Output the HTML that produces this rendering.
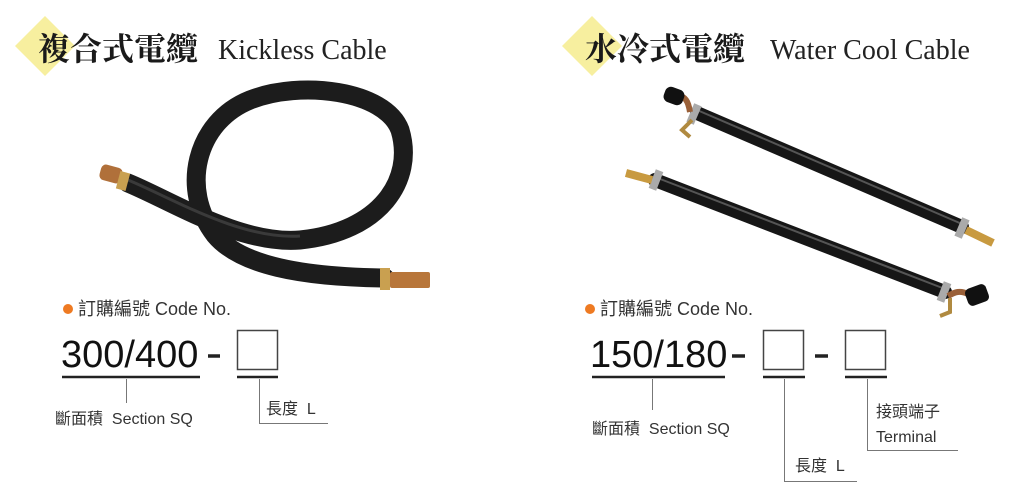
<!DOCTYPE html>
<html><head><meta charset="utf-8"><style>
html,body{margin:0;padding:0;background:#fff;}
#c{position:relative;width:1024px;height:495px;overflow:hidden;background:#fff;}
.t{position:absolute;white-space:nowrap;line-height:1;color:#222;}
.cjkt{font-family:"Noto Serif CJK SC","Liberation Serif",serif;font-size:32px;font-weight:bold;color:#1a1a1a;}
.ent{font-family:"Liberation Serif",serif;font-size:28px;color:#222;}
.s{font-family:"Liberation Sans","Noto Sans CJK TC",sans-serif;font-size:16px;color:#333;}
.cn{font-size:18px;}
.big{font-family:"Liberation Sans",sans-serif;font-size:38px;color:#111;}
</style></head><body><div id="c">
<svg width="1024" height="495" style="position:absolute;left:0;top:0">
<polygon points="45,16 75,46 45,76 15,46" fill="#f7ef9f"/>
<polygon points="592,16 622,46 592,76 562,46" fill="#f7ef9f"/>
<path d="M128,183 C170,200 240,245 300,240 C380,232 415,180 400,130 C385,90 300,80 250,100 C195,122 180,190 215,235 C240,265 300,277 385,278" fill="none" stroke="#1c1c1c" stroke-width="19" stroke-linecap="round"/>
<path d="M128,180 C170,197 240,240 300,236" fill="none" stroke="#3a3a3a" stroke-width="3"/>
<rect x="100" y="166" width="22" height="16" rx="5" fill="#b0703a" transform="rotate(15 111 174)"/>
<rect x="118" y="172" width="10" height="18" fill="#c9a050" transform="rotate(15 123 181)"/>
<rect x="380" y="268" width="10" height="22" fill="#c9a050"/>
<rect x="390" y="272" width="40" height="16" rx="2" fill="#b8763a"/>
<line x1="697" y1="113" x2="962" y2="227" stroke="#161616" stroke-width="14" stroke-linecap="round"/>
<line x1="697" y1="110" x2="962" y2="224" stroke="#555" stroke-width="2"/>
<rect x="690" y="104" width="8" height="20" fill="#aaa" transform="rotate(23 694 114)"/>
<rect x="958" y="218" width="8" height="20" fill="#aaa" transform="rotate(23 962 228)"/>
<line x1="966" y1="230" x2="993" y2="243" stroke="#c89a40" stroke-width="8"/>
<path d="M690,112 C688,100 685,97 678,95" stroke="#9a6038" stroke-width="6" fill="none"/>
<rect x="664" y="88" width="20" height="16" rx="6" fill="#111" transform="rotate(20 674 96)"/>
<path d="M692,120 L682,130 L690,137" stroke="#b08a40" stroke-width="4" fill="none"/>
<line x1="655" y1="180" x2="945" y2="292" stroke="#161616" stroke-width="14" stroke-linecap="round"/>
<line x1="655" y1="177" x2="945" y2="289" stroke="#555" stroke-width="2"/>
<rect x="652" y="170" width="8" height="20" fill="#aaa" transform="rotate(21 656 180)"/>
<rect x="940" y="282" width="8" height="20" fill="#aaa" transform="rotate(21 944 292)"/>
<line x1="626" y1="173" x2="652" y2="180" stroke="#c89a40" stroke-width="8"/>
<path d="M948,296 C955,292 960,290 968,294" stroke="#9a6038" stroke-width="6" fill="none"/>
<rect x="966" y="286" width="22" height="18" rx="5" fill="#111" transform="rotate(-20 977 295)"/>
<path d="M950,298 L950,312 L940,316" stroke="#b08a40" stroke-width="4" fill="none"/>
<circle cx="68" cy="309" r="5" fill="#ee7a22"/>
<circle cx="590" cy="309" r="5" fill="#ee7a22"/>
<g stroke="#222" stroke-width="2.5" fill="none">
<line x1="62" y1="377" x2="200" y2="377"/>
<line x1="237" y1="377" x2="278" y2="377"/>
<line x1="592" y1="377" x2="725" y2="377"/>
<line x1="763" y1="377" x2="805" y2="377"/>
<line x1="845" y1="377" x2="887" y2="377"/>
</g>
<g stroke="#444" stroke-width="1.5" fill="none">
<rect x="237.5" y="330.5" width="40" height="39"/>
<rect x="763.5" y="330.5" width="40" height="39"/>
<rect x="845.5" y="330.5" width="40" height="39"/>
</g>
<g stroke="#222" stroke-width="3.5">
<line x1="208" y1="356" x2="220" y2="356"/>
<line x1="732" y1="356" x2="745" y2="356"/>
<line x1="815" y1="356" x2="828" y2="356"/>
</g>
<g stroke="#777" stroke-width="1" fill="none">
<line x1="126.5" y1="379" x2="126.5" y2="403"/>
<polyline points="259.5,379 259.5,423.5 328,423.5"/>
<line x1="652.5" y1="379" x2="652.5" y2="410"/>
<polyline points="784.5,379 784.5,481.5 857,481.5"/>
<polyline points="867.5,379 867.5,450.5 958,450.5"/>
</g>
</svg>
<div class="t cjkt" style="left:38px;top:31px">複合式電纜</div>
<div class="t ent" style="left:218px;top:37px">Kickless Cable</div>
<div class="t cjkt" style="left:585px;top:31px">水冷式電纜</div>
<div class="t ent" style="left:770px;top:37px">Water Cool Cable</div>
<div class="t s cn" style="left:78px;top:300px">訂購編號 Code No.</div>
<div class="t s cn" style="left:600px;top:300px">訂購編號 Code No.</div>
<div class="t big" style="left:61px;top:336px">300/400</div>
<div class="t big" style="left:590px;top:336px">150/180</div>
<div class="t s" style="left:55px;top:412px">斷面積&nbsp; Section SQ</div>
<div class="t s" style="left:266px;top:402px">長度&nbsp; L</div>
<div class="t s" style="left:592px;top:422px">斷面積&nbsp; Section SQ</div>
<div class="t s" style="left:795px;top:459px">長度&nbsp; L</div>
<div class="t s" style="left:876px;top:405px">接頭端子</div>
<div class="t s" style="left:876px;top:430px">Terminal</div>
</div></body></html>
